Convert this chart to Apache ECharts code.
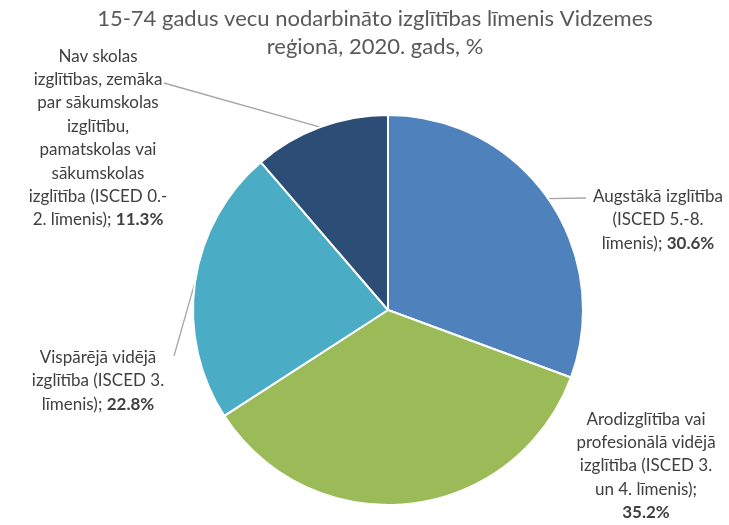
<!DOCTYPE html>
<html>
<head>
<meta charset="utf-8">
<script src="https://cdn.jsdelivr.net/npm/echarts@6/dist/echarts.min.js"></script>
<style>
  html, body { margin: 0; padding: 0; background: #fff; }
  #chart { width: 729px; height: 525px; }
</style>
</head>
<body>
<div id="chart"></div>
<script>
// Datu kopas
const categories = [
    'Augstākā izglītība\n(ISCED 5.-8.\nlīmenis)',
    'Arodizglītība vai\nprofesionālā vidējā\nizglītība (ISCED 3.\nun 4. līmenis);',
    'Vispārējā vidējā\nizglītība (ISCED 3.\nlīmenis)',
    'Nav skolas\nizglītības, zemāka\npar sākumskolas\nizglītību,\npamatskolas vai\nsākumskolas\nizglītība (ISCED 0.-\n2. līmenis)'
];
const values = [30.6, 35.2, 22.8, 11.3];
const colors = ['#4f81bd', '#9bbb59', '#4bacc6', '#2c4d75'];

// label vietas (px) katrai daļai un līnijas gala punkts
const labelSpots = [[658, 220], [646, 466], [98, 381], [98, 138]];
const lineEnds = [[586, 198], null, [174, 356], [164, 83]];

const chart = echarts.init(document.getElementById('chart'));

chart.setOption({
    title: {
        text: '15-74 gadus vecu nodarbināto izglītības līmenis Vidzemes\nreģionā, 2020. gads, %',
        left: 370, top: 0, textAlign: 'center',
        textStyle: { fontFamily: 'Lato', fontSize: 22, fontWeight: 'normal', color: '#595959', lineHeight: 28 }
    },
    series: [{
        type: 'pie',
        center: [388, 310],
        radius: [0, 195],
        startAngle: 90,
        clockwise: true,
        animation: false,
        itemStyle: { borderColor: '#fff', borderWidth: 2 },
        data: values.map((v, i) => ({
            name: categories[i], value: v, itemStyle: { color: colors[i] },
            // Arodizglītība: procenti atsevišķā rindā, bez līnijas
            label: { formatter: i === 1 ? '{n|{b}}\n{p|{c}%}' : '{n|{b}}; {p|{c}%}' },
            labelLine: { show: lineEnds[i] !== null }
        })),
        label: {
            show: true,
            overflow: 'none',
            color: '#404040',
            fontFamily: 'Lato',
            fontSize: 17,
            lineHeight: 23.4,
            align: 'center',
            rich: {
                n: { fontFamily: 'Lato', fontSize: 17, lineHeight: 23.4, color: '#404040', align: 'center' },
                p: { fontFamily: 'Lato', fontSize: 17, lineHeight: 23.4, color: '#404040', fontWeight: 'bold', align: 'center' }
            }
        },
        labelLine: { show: true, length: 20, length2: 20, lineStyle: { color: '#a6a6a6', width: 1.3 } },
        labelLayout: function (params) {
            const i = params.dataIndex;
            const s = labelSpots[i];
            const out = { x: s[0], y: s[1], align: 'center', verticalAlign: 'middle' };
            if (lineEnds[i] && params.labelLinePoints) {
                const p0 = params.labelLinePoints[0];
                out.labelLinePoints = [p0, p0, lineEnds[i]];
            }
            return out;
        }
    }]
});
</script>
</body>
</html>
